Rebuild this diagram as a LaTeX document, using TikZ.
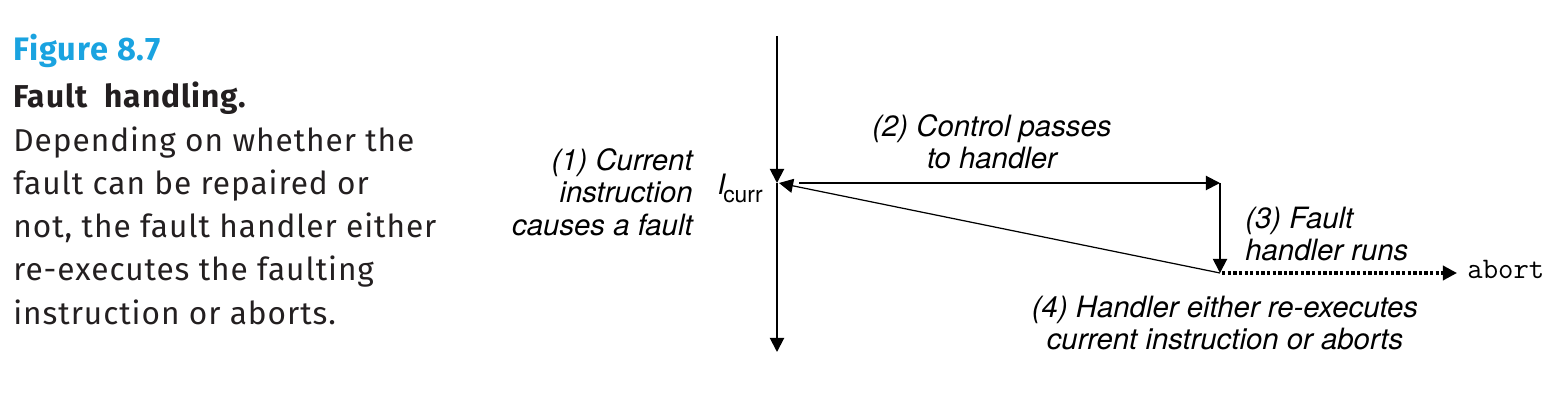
\documentclass[tikz,border=0pt]{standalone}
\usepackage{xcolor}
\usepackage{fontspec}
\setmainfont{TeX Gyre Heros}
\newfontfamily\capfont[LetterSpace=3]{Fira Sans}
\usepackage{tikz}
\usetikzlibrary{arrows.meta}
\definecolor{figblue}{HTML}{1AA3E0}
\definecolor{ink}{HTML}{231F20}
\tikzset{
  flow/.style={line width=1.1pt, -{Triangle[length=8pt,width=8pt]}},
  back/.style={line width=0.7pt, -{Triangle[length=8pt,width=8pt]}},
  dotflow/.style={line width=1.9pt, dash pattern=on 1.9pt off 1.3pt, -{Triangle[length=8pt,width=8pt]}},
  lab/.style={font=\fontsize{16.7}{18.5}\selectfont\itshape, inner sep=0pt},
}

\begin{document}
\begin{tikzpicture}[x=0.02cm,y=-0.02cm]%
\useasboundingbox (0,0) rectangle (1555,415);%
% caption
\node[anchor=base west, inner sep=0pt, text=figblue, font=\capfont\bfseries\fontsize{18.5}{24.6}\selectfont] (figno) at (13,61) {Figure 8.7};%
\node[anchor=north west, inner sep=0pt, align=left, text=ink, font=\capfont\fontsize{18}{24.6}\selectfont] (captext) at (13,82) {\textbf{Fault\ \ handling.}\\Depending on whether the\\fault can be repaired or\\not, the fault handler either\\re-executes the faulting\\instruction or aborts.};%
% points of the flow
\coordinate (top) at (777,36);%
\coordinate (fault) at (777,183);%
\coordinate (bottom) at (777,352);%
\coordinate (handler) at (1220,183);%
\coordinate (done) at (1220,273);%
\node[anchor=base west, inner sep=0pt, font=\ttfamily\fontsize{17}{18}\selectfont] (abort) at (1467,278) {abort};%
% arrows
\draw[flow] (top) -- (fault);%
\draw[flow] (fault) -- (bottom);%
\draw[flow] ([xshift=0.44cm]fault) -- (handler);%
\draw[flow] (handler) -- (done);%
\draw[back] (done) -- ([xshift=0.04cm]fault);%
\draw[dotflow] ([xshift=0.04cm]done) -- ([xshift=-0.2cm]done -| abort.west);%
% labels
\node[lab, anchor=east, align=right] (step1) at (693,192) {(1) Current\\instruction\\causes a fault};%
\node[anchor=base east, inner sep=0pt] (icurr) at (763,195) {{\fontsize{16}{18}\selectfont\itshape I}\kern-1.2pt\raisebox{-4pt}{\fontsize{13}{15}\selectfont curr}};%
\node[lab, align=center] (step2) at (992,142) {(2) Control passes\\to handler};%
\node[lab, anchor=west, align=left] (step3) at (1245,234) {(3) Fault\\handler runs};%
\node[lab, align=center] (step4) at (1225,323) {(4) Handler either re-executes\\current instruction or aborts};%
\end{tikzpicture}
\end{document}
